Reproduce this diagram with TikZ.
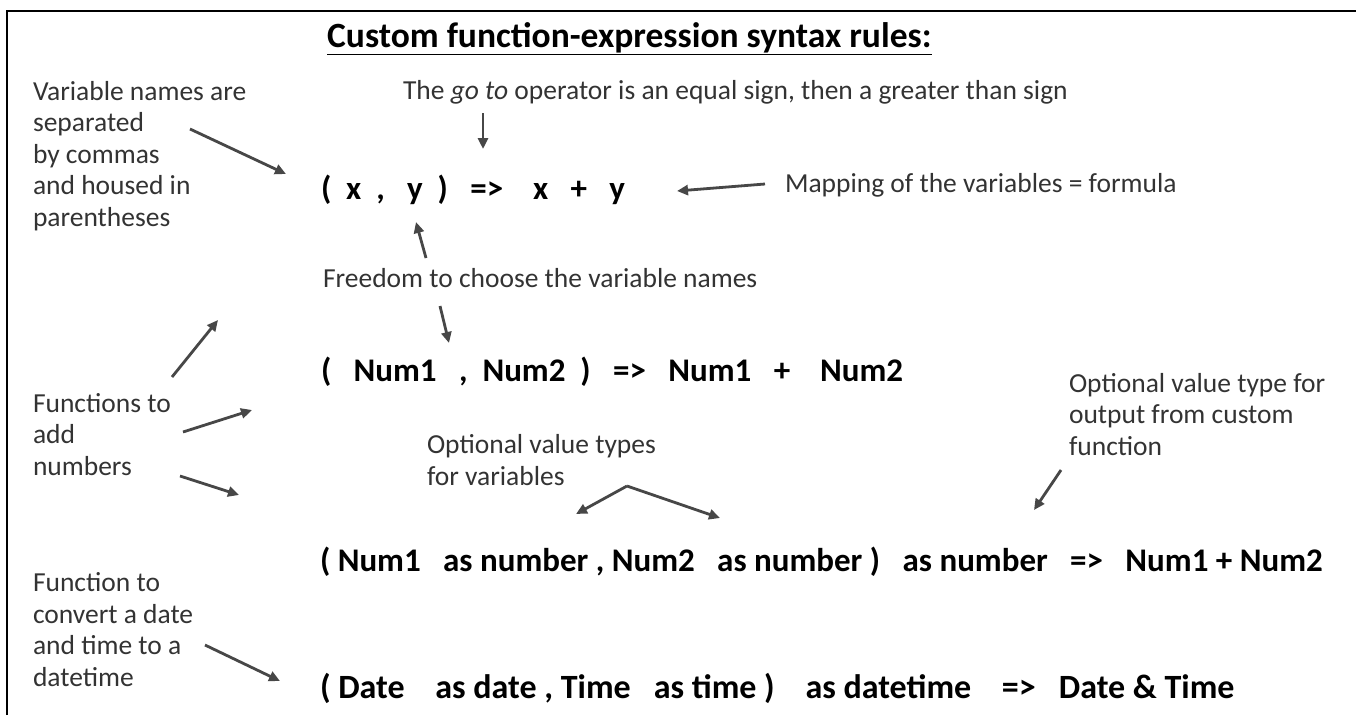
\documentclass[tikz,border=0pt]{standalone}
\usepackage{fontspec}
\setmainfont{Carlito}
\usetikzlibrary{arrows.meta}
\definecolor{anno}{HTML}{333333}
\definecolor{arr}{HTML}{474747}
\tikzset{
  note/.style={inner sep=0pt, outer sep=0pt, text=anno, font=\fontsize{27.5}{31.5}\selectfont, align=left, anchor=base west},
  code/.style={inner sep=0pt, outer sep=0pt, text=black, font=\fontsize{33}{38}\selectfont\bfseries, anchor=base west},
  bigcode/.style={code, font=\fontsize{34}{39}\selectfont\bfseries},
  pointer/.style={draw=arr, line width=2.8pt, -{Triangle[length=11pt,width=10pt]}},
}
\begin{document}
\begin{tikzpicture}[x=1pt,y=-1pt]
\useasboundingbox (0,0) rectangle (1356,715);
\fill[white] (0,0) rectangle (1356,715);
\draw[line width=1.6pt, black] (7,715) |- (1356,11);

\node[inner sep=0pt, anchor=base west, font=\fontsize{35.5}{41}\selectfont\bfseries] (title) at (327,47) {\underline{Custom function-expression syntax rules:}};

\node[note] (goto) at (403,99) {The \textit{go to} operator is an equal sign, then a greater than sign};
\node[note] (map) at (785,192) {Mapping of the variables = formula};
\node[note] (free) at (323,287) {Freedom to choose the variable names};
\node[note] (varn) at (33,226) {Variable names are\\separated\\by commas\\and housed in\\parentheses};
\node[note] (fadd) at (33,475) {Functions to\\add\\numbers};
\node[note] (opttypes) at (427,485) {Optional value types\\for variables};
\node[note] (optout) at (1069,455) {Optional value type for\\output from custom\\function};
\node[note] (fconv) at (33,686) {Function to\\convert a date\\and time to a\\datetime};

\node[code] (l1) at (321,199) {(\ \ x\ \ ,\ \ \ y\ \ )\ \ \ =>\ \ \ \ x\ \ \ +\ \ \ y};
\node[code] (l2) at (321,381) {(\ \ \ Num1\ \ \ ,\ \ Num2\ \ )\ \ \ =>\ \ \ Num1\ \ \ +\ \ \ \ Num2};
\node[code] (l3) at (320,571) {(\ Num1\ \ \ as number\ ,\ Num2\ \ \ as number\ )\ \ \ as number\ \ \ =>\ \ \ Num1 + Num2};
\node[bigcode] (l4) at (320,698) {(\ Date\ \ \ \ as date\ ,\ Time\ \ \ as time\ )\ \ \ \ as datetime\ \ \ \ =>\ \ \ Date \& Time};

% arrow end points
\coordinate (a1s) at (190,129);  \coordinate (a1e) at (286,174);
\coordinate (a2s) at (483,113);  \coordinate (a2e) at (483,149);
\coordinate (a3s) at (765,184);  \coordinate (a3e) at (677,191);
\coordinate (a4s) at (426,258);  \coordinate (a4e) at (416,222);
\coordinate (a5s) at (440,306);  \coordinate (a5e) at (449,343);
\coordinate (a6s) at (172,377);  \coordinate (a6e) at (218,320);
\coordinate (a7s) at (183,432);  \coordinate (a7e) at (252,410);
\coordinate (a8s) at (180,476);  \coordinate (a8e) at (239,495);
\coordinate (apex) at (627,486); \coordinate (a9e) at (576,514); \coordinate (a10e) at (720,518);
\coordinate (a11s) at (1061,470); \coordinate (a11e) at (1034,510);
\coordinate (a12s) at (205,645); \coordinate (a12e) at (280,681);

\draw[pointer] (a1s) -- (a1e);
\draw[pointer] (a2s) -- (a2e);
\draw[pointer] (a3s) -- (a3e);
\draw[pointer] (a4s) -- (a4e);
\draw[pointer] (a5s) -- (a5e);
\draw[pointer] (a6s) -- (a6e);
\draw[pointer] (a7s) -- (a7e);
\draw[pointer] (a8s) -- (a8e);
\draw[pointer] (apex) -- (a9e);
\draw[pointer] (apex) -- (a10e);
\draw[pointer] (a11s) -- (a11e);
\draw[pointer] (a12s) -- (a12e);
\end{tikzpicture}
\end{document}
